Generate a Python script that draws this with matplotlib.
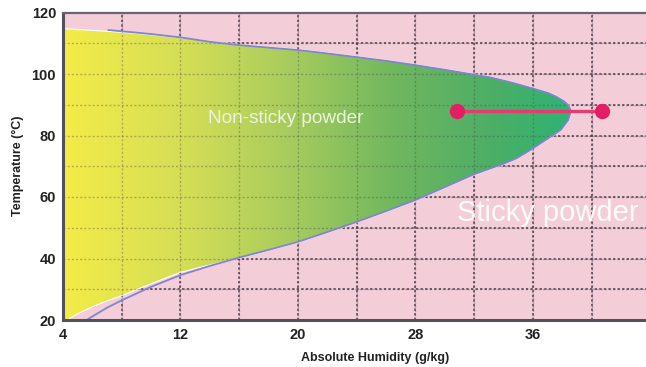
import numpy as np
import matplotlib
matplotlib.use("Agg")
import matplotlib.pyplot as plt
from matplotlib.colors import LinearSegmentedColormap
from matplotlib.patches import Polygon

plt.rcParams["font.family"] = ["Liberation Sans", "DejaVu Sans"]

# Boundary of the non-sticky region (humidity g/kg, temperature C).
upper_h = [4, 6, 8, 10, 12, 14, 16, 18, 20, 22, 24, 26, 28, 30, 32, 33.1,
           34.5, 36, 37, 37.6, 38.1, 38.4, 38.6]
upper_t = [114.6, 114.0, 113.4, 112.6, 111.6, 110.5, 109.4, 108.6, 107.8, 106.7,
           105.5, 104.3, 102.9, 101.4, 99.8, 98.9, 97.3, 95.3, 93.9, 92.6, 91.2,
           89.9, 88.0]
lower_h = [4.2, 5, 6, 7, 8, 10, 12, 14, 16, 18, 20, 22, 24, 26, 28, 30, 32,
           34, 34.9, 36, 37.2, 37.9, 38.4, 38.6]
lower_t = [20, 22.2, 24.5, 26.4, 28.1, 32, 35.7, 38.1, 40.3, 42.8, 45.4, 48.6,
           51.9, 55.4, 59.0, 63.2, 67.4, 70.8, 72.6, 75.8, 79.6, 81.8, 85.0, 88.0]

# Outline curve (drawn in blue) - slightly outside the fill at the ends.
curve_up_h = [7.1, 8, 10, 12] + upper_h[5:]
curve_up_t = [114.3, 113.9, 113.0, 111.9] + upper_t[5:]
curve_lo_h = [5.7, 7, 8, 10, 12, 14] + lower_h[8:]
curve_lo_t = [20.3, 24.0, 26.4, 30.8, 34.6, 37.6] + lower_t[8:]

# Process line (outlet air conditions)
line_h = [30.8, 40.7]
line_t = [88, 88]

x_ticks = [4, 12, 20, 28, 36]
y_ticks = [20, 40, 60, 80, 100, 120]
x_grid = np.arange(8, 44, 4)
y_grid = np.arange(30, 120, 10)

fig = plt.figure(figsize=(6.46, 3.67), dpi=100)
ax = fig.add_axes([63 / 646, 47 / 367, 583 / 646, 307.5 / 367])
ax.set_xlim(4, 43.7)
ax.set_ylim(20, 120)
ax.set_facecolor("#F3CED9")
ax.set_xticks(x_ticks)
ax.set_yticks(y_ticks)

# dark dotted grid underneath the coloured region
for v in x_grid:
    ax.axvline(v, color="#4d3c4a", lw=1.1, ls=(0, (1.5, 1.5)), zorder=1)
for v in y_grid:
    ax.axhline(v, color="#4d3c4a", lw=1.1, ls=(0, (1.5, 1.5)), zorder=1)

# gradient-filled region
poly_x = [4] + upper_h + lower_h[::-1]
poly_y = [20] + upper_t + lower_t[::-1]
poly = Polygon(np.column_stack([poly_x, poly_y]), closed=True,
               facecolor="none", edgecolor="white", lw=1.6, zorder=2)
ax.add_patch(poly)
cmap = LinearSegmentedColormap.from_list("ns", [
    (0.0, "#F4EC48"), (0.25, "#D2DD57"), (0.45, "#A6CB5D"),
    (0.65, "#70B75F"), (0.85, "#4BAE66"), (1.0, "#2DB374")])
grad = np.linspace(0, 1, 256).reshape(1, -1)
im = ax.imshow(grad, cmap=cmap, extent=[4, 38.7, 20, 120], aspect="auto",
               origin="lower", zorder=3, interpolation="bilinear")
im.set_clip_path(poly)

# faint grid over the fill
for v in x_grid:
    ax.axvline(v, color="#4d3c4a", lw=1.0, ls=(0, (1.5, 1.5)), alpha=0.35, zorder=4)
for v in y_grid:
    ax.axhline(v, color="#4d3c4a", lw=1.0, ls=(0, (1.5, 1.5)), alpha=0.35, zorder=4)

ax.plot(curve_up_h, curve_up_t, color="#8383D0", lw=1.3, zorder=5)
ax.plot(curve_lo_h, curve_lo_t, color="#8383D0", lw=1.3, zorder=5)

ax.plot(line_h, line_t, color="#E23D6E", lw=2.4, zorder=6)
ax.plot(line_h, line_t, "o", color="#E41E66", ms=10, zorder=7)

ax.text(19.2, 85.6, "Non-sticky powder", color="#EEF3DF", fontsize=13.7,
        ha="center", va="center", zorder=8)
ax.text(37.0, 54.7, "Sticky powder", color="white", fontsize=21,
        ha="center", va="center", alpha=0.9, zorder=8)

ax.tick_params(which="both", length=0, labelsize=10.5, colors="#222222")
ax.tick_params(axis="x", pad=6)
ax.tick_params(axis="y", pad=5)
for lab in ax.get_xticklabels() + ax.get_yticklabels():
    lab.set_fontweight("bold")

for side in ["left", "bottom"]:
    ax.spines[side].set_color("#56505a")
    ax.spines[side].set_linewidth(2.2)
ax.spines["top"].set_color("#6a6470")
ax.spines["top"].set_linewidth(1.6)
ax.spines["right"].set_visible(False)
for s in ax.spines.values():
    s.set_zorder(9)

ax.set_ylabel("Temperature (°C)", fontsize=9, fontweight="bold", color="#222222")
ax.yaxis.set_label_coords(-39 / 583, 0.5)
fig.text(375 / 646, 1 - 358 / 367, "Absolute Humidity (g/kg)", fontsize=9,
         fontweight="bold", color="#222222", ha="center", va="center")

fig.savefig("out.png", dpi=100)
